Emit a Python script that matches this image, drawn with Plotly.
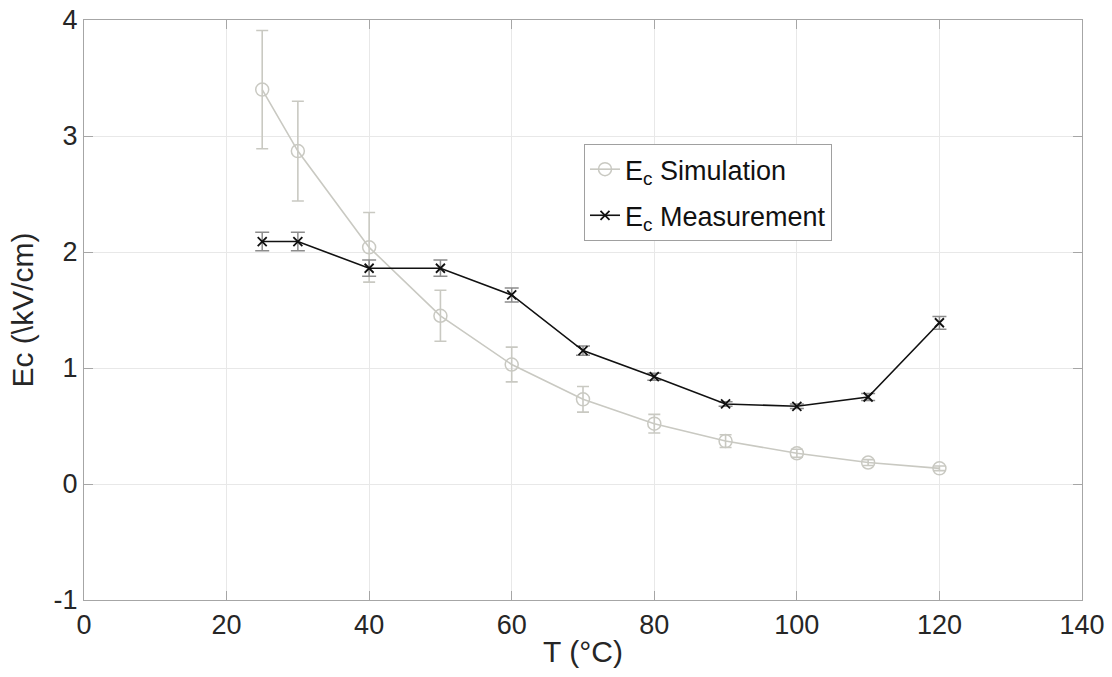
import plotly.graph_objects as go

temps = [25, 30, 40, 50, 60, 70, 80, 90, 100, 110, 120]
sim_vals = [3.40, 2.87, 2.04, 1.45, 1.03, 0.73, 0.52, 0.37, 0.265, 0.185, 0.135]
sim_err = [0.51, 0.43, 0.30, 0.22, 0.15, 0.11, 0.08, 0.055, 0.035, 0.025, 0.02]
meas_vals = [2.09, 2.09, 1.86, 1.86, 1.63, 1.15, 0.925, 0.69, 0.67, 0.75, 1.39]
meas_err = [0.08, 0.08, 0.07, 0.07, 0.06, 0.04, 0.03, 0.02, 0.02, 0.03, 0.055]

x_ticks = [0, 20, 40, 60, 80, 100, 120, 140]
y_ticks = [-1, 0, 1, 2, 3, 4]

FONT = "Liberation Sans, Arial, sans-serif"
TXT = "#262626"
AX = "#a6a6a6"
GRID = "#e8e8e8"
SIM_C = "#c9c9c2"

fig = go.Figure()
fig.add_trace(go.Scatter(
    x=temps, y=sim_vals, mode="lines+markers",
    name="E<sub>c</sub> Simulation", legendgroup="sim",
    line=dict(color=SIM_C, width=1.6),
    marker=dict(symbol="circle-open", size=13, color=SIM_C, line=dict(width=1.5, color=SIM_C)),
    error_y=dict(type="data", array=sim_err, visible=True, color=SIM_C, thickness=1.6, width=6),
))
fig.add_trace(go.Scatter(
    x=temps, y=meas_vals, mode="lines+markers",
    name="E<sub>c</sub> Measurement", legendgroup="meas",
    line=dict(color="#111111", width=1.6),
    marker=dict(symbol="x-thin-open", size=9, color="#111111", line=dict(width=1.8, color="#111111")),
    error_y=dict(type="data", array=meas_err, visible=True, color="#8c8c8c", thickness=1.5, width=7),
))

axis_common = dict(
    showline=True, linecolor=AX, linewidth=1.2, mirror="ticks",
    ticks="inside", ticklen=9, tickwidth=1.2, tickcolor=AX,
    showgrid=True, gridcolor=GRID, gridwidth=1, zeroline=False,
    tickfont=dict(family=FONT, size=27, color=TXT),
    automargin=False, ticklabeloverflow="allow",
)

fig.update_xaxes(range=[0, 140], tickvals=x_ticks, ticktext=[str(v) for v in x_ticks],
                 title=dict(text="T (°C)", font=dict(family=FONT, size=30, color=TXT), standoff=2),
                 **axis_common)
fig.update_yaxes(range=[-1, 4], tickvals=y_ticks, ticktext=[str(v) for v in y_ticks],
                 title=dict(text="Ec (\\kV/cm)", font=dict(family=FONT, size=30, color=TXT), standoff=10),
                 **axis_common)

fig.update_layout(
    width=1112, height=677,
    margin=dict(l=84, r=30, t=20, b=77, autoexpand=False),
    paper_bgcolor="white", plot_bgcolor="white",
    font=dict(family=FONT, color=TXT),
    legend=dict(
        x=0.501, y=0.786, xanchor="left", yanchor="top",
        bgcolor="white", bordercolor="#a0a0a0", borderwidth=1,
        font=dict(family=FONT, size=27, color="#111111"),
        itemwidth=30, tracegroupgap=8,
    ),
)

fig.write_html("out.html", config={"displayModeBar": False},
               post_script="document.body.style.margin='0px';document.body.style.overflow='hidden';")
